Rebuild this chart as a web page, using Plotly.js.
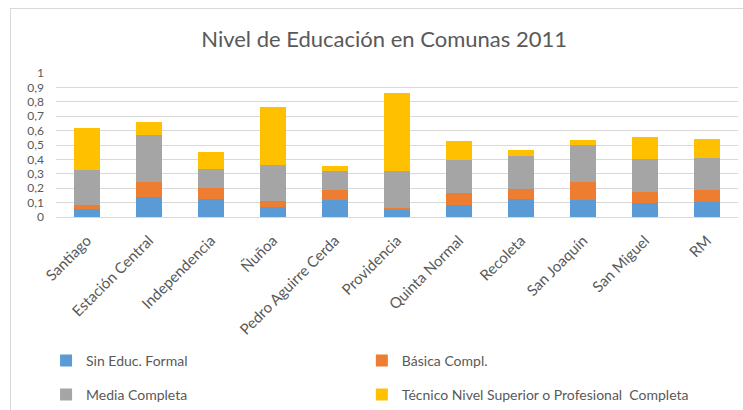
<!DOCTYPE html>
<html><head><meta charset="utf-8">
<script src="https://cdn.plot.ly/plotly-3.0.1.min.js"></script>
<style>
html,body{margin:0;padding:0;background:#fff;}
#chart{width:743px;height:410px;}
#frame{position:absolute;left:10px;top:8px;width:740px;height:410px;border:1px solid #d9d9d9;pointer-events:none;}
</style></head>
<body>
<div id="chart"></div>
<div id="frame"></div>
<script>
const comunas = ["Santiago","Estación Central","Independencia","Ñuñoa","Pedro Aguirre Cerda","Providencia","Quinta Normal","Recoleta","San Joaquín","San Miguel","RM"];
const sinEduc = [0.058,0.137,0.125,0.072,0.118,0.046,0.083,0.125,0.118,0.097,0.104];
const basica  = [0.023,0.104,0.076,0.037,0.067,0.019,0.086,0.067,0.123,0.074,0.081];
const media   = [0.248,0.331,0.135,0.252,0.132,0.254,0.225,0.229,0.259,0.232,0.225];
const tecnico = [0.291,0.090,0.118,0.401,0.035,0.544,0.131,0.047,0.032,0.150,0.132];
const seriesNames = ["Sin Educ. Formal","Básica Compl.","Media Completa","Técnico Nivel Superior o Profesional  Completa"];
const colors = ["#5B9BD5","#ED7D31","#A5A5A5","#FFC000"];
const yTicks = [0,0.1,0.2,0.3,0.4,0.5,0.6,0.7,0.8,0.9,1];

const font = "Lato, 'Open Sans', sans-serif";
const legendIds = ["legend","legend2","legend3","legend4"];
const data = [sinEduc,basica,media,tecnico].map((v,i)=>({
  type:"bar", x:comunas, y:v, name:seriesNames[i], legend:legendIds[i],
  marker:{color:colors[i], line:{width:0}}, hoverinfo:"skip"
}));
function leg(x,y){
  return {xref:"container", yref:"container", x:x, y:y, xanchor:"left", yanchor:"middle",
    orientation:"h", bgcolor:"rgba(0,0,0,0)", font:{family:font,size:14,color:"#595959"}};
}
const layout = {
  width:743, height:410,
  margin:{l:56,r:5,t:73,b:193},
  paper_bgcolor:"#fff", plot_bgcolor:"#fff",
  separators:",.",
  barmode:"stack", bargap:0.59,
  font:{family:font, color:"#595959", size:13},
  title:{text:"Nivel de Educación en Comunas 2011", font:{family:font,size:22,color:"#595959"}, x:0.517, xanchor:"center", y:0.905, yanchor:"middle"},
  xaxis:{tickangle:-45, showgrid:false, showline:true, linecolor:"#d9d9d9", ticks:"", automargin:false, ticklabelstandoff:8, tickfont:{size:15,color:"#595959"}, fixedrange:true},
  yaxis:{range:[0,1], tickvals:yTicks, showgrid:true, gridcolor:"#d9d9d9", zeroline:false, showline:false, ticks:"", automargin:false, ticklabelstandoff:11, tickfont:{size:12,color:"#595959"}, fixedrange:true},
  legend:leg(0.062,0.12),
  legend2:leg(0.487,0.12),
  legend3:leg(0.062,0.037),
  legend4:leg(0.487,0.037),
  showlegend:true
};
Plotly.newPlot("chart", data, layout, {displayModeBar:false, staticPlot:true});
</script>
</body></html>
